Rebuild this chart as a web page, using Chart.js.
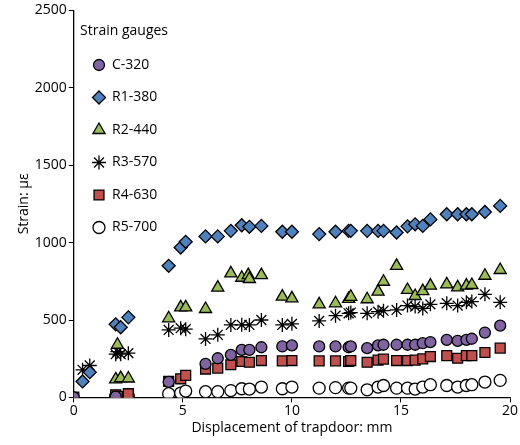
<!DOCTYPE html>
<html>
<head>
<meta charset="utf-8">
<script src="https://cdn.jsdelivr.net/npm/chart.js@4/dist/chart.umd.min.js"></script>
<style>
  body { margin: 0; background: #fff; }
  #wrap { width: 520px; height: 445px; }
</style>
</head>
<body>
<div id="wrap"><canvas id="chart"></canvas></div>
<script>
/* ================= DATA ================= */
const xC   = [0, 1.92, 4.35, 6.04, 6.6, 7.2, 7.7, 8.05, 8.6, 9.56, 10.0, 11.25, 12.0, 12.6, 12.7, 13.45, 13.95, 14.2, 14.8, 15.3, 15.65, 16.0, 16.35, 17.1, 17.6, 18.0, 18.25, 18.85, 19.55];
const c320 = [0, 5, 100, 217, 253, 275, 307, 307, 324, 329, 336, 329, 329, 324, 329, 318, 336, 340, 340, 340, 340, 350, 357, 372, 365, 372, 379, 419, 464];

const xR   = [0.4, 0.73, 1.92, 2.15, 2.5, 4.35, 4.9, 5.13, 6.04, 6.6, 7.2, 7.7, 8.05, 8.6, 9.56, 10.0, 11.25, 12.0, 12.6, 12.7, 13.45, 13.95, 14.2, 14.8, 15.3, 15.65, 16.0, 16.35, 17.1, 17.6, 18.0, 18.25, 18.85, 19.55];
const r380 = [103, 163, 472, 453, 517, 850, 968, 1005, 1040, 1040, 1076, 1112, 1102, 1108, 1070, 1070, 1055, 1070, 1076, 1076, 1076, 1076, 1076, 1065, 1105, 1118, 1108, 1150, 1183, 1183, 1183, 1183, 1198, 1237];

const xT   = [1.92, 2.0, 2.15, 2.5, 4.35, 4.9, 5.13, 6.04, 6.6, 7.2, 7.7, 8.0, 8.05, 8.6, 9.56, 10.0, 11.25, 12.0, 12.6, 12.7, 13.45, 13.95, 14.2, 14.8, 15.3, 15.65, 16.0, 16.35, 17.1, 17.6, 18.0, 18.25, 18.85, 19.55];
const r440 = [116, 340, 125, 122, 511, 582, 582, 571, 709, 801, 773, 790, 765, 790, 651, 640, 601, 608, 636, 650, 634, 683, 747, 850, 694, 655, 687, 722, 730, 711, 722, 726, 786, 823];

const xS   = [0.4, 0.73, 1.92, 2.0, 2.15, 2.5, 4.35, 4.9, 5.13, 6.04, 6.6, 7.2, 7.7, 8.05, 8.6, 9.56, 10.0, 11.25, 12.0, 12.6, 12.7, 13.45, 13.95, 14.2, 14.8, 15.3, 15.65, 16.0, 16.35, 17.1, 17.6, 18.0, 18.25, 18.85, 19.55];
const r570 = [178, 206, 279, 296, 279, 286, 436, 447, 441, 378, 404, 468, 469, 468, 500, 468, 475, 494, 528, 543, 548, 543, 554, 560, 565, 593, 587, 575, 601, 608, 593, 614, 619, 666, 614];

const xQ   = [0, 1.92, 2.0, 2.5, 4.35, 4.9, 5.13, 6.04, 6.6, 7.2, 7.7, 8.05, 8.6, 9.56, 10.0, 11.25, 12.0, 12.6, 12.7, 13.45, 13.95, 14.2, 14.8, 15.3, 15.65, 16.0, 16.35, 17.1, 17.6, 18.0, 18.25, 18.85, 19.55];
const r630 = [2, 17, 7, 24, 103, 120, 142, 183, 189, 211, 232, 227, 238, 236, 238, 236, 236, 232, 238, 227, 241, 247, 238, 238, 241, 249, 264, 270, 253, 270, 270, 290, 318];

const xO   = [1.92, 2.5, 4.35, 4.9, 5.13, 6.04, 6.6, 7.2, 7.7, 8.05, 8.6, 9.56, 10.0, 11.25, 12.0, 12.6, 12.7, 13.45, 13.95, 14.2, 14.8, 15.3, 15.65, 16.0, 16.35, 17.1, 17.6, 18.0, 18.25, 18.85, 19.55];
const r700 = [7, 10, 24, 28, 41, 37, 37, 44, 56, 54, 67, 56, 67, 60, 63, 60, 60, 49, 67, 77, 60, 60, 54, 67, 82, 77, 67, 77, 82, 99, 110];

/* ================= HELPERS ================= */
function pts(xs, ys) {
  return ys.map((y, i) => ({ x: xs[i], y: y }));
}

function series(label, xs, ys, style, fill, r) {
  return {
    label: label,
    data: pts(xs, ys),
    pointStyle: style,
    backgroundColor: fill,
    borderColor: "#000",
    borderWidth: 1.3,
    pointRadius: r,
    showLine: false
  };
}

const datasets = [
  series("C-320", xC, c320, "circle", "#8064a2", 5.5),
  series("R1-380", xR, r380, "rectRot", "#4f81bd", 6.5),
  series("R2-440", xT, r440, "triangle", "#9bbb59", 7),
  series("R3-570", xS, r570, "star", "#000", 7),
  series("R4-630", xQ, r630, "rect", "#c0504d", 7),
  series("R5-700", xO, r700, "circle", "#fff", 6)
];

/* ================= LEGEND (inside plot) ================= */
const legendPlugin = {
  id: "gaugeLegend",
  afterDraw(chart) {
    const ctx = chart.ctx;
    ctx.save();
    ctx.fillStyle = "#000";
    ctx.font = "14px 'Open Sans'";
    ctx.textBaseline = "middle";
    ctx.fillText("Strain gauges", 80, 31);
    chart.data.datasets.forEach((ds, i) => {
      const y = 65 + i * 32.5;
      ctx.fillStyle = ds.backgroundColor;
      ctx.strokeStyle = "#000";
      ctx.lineWidth = ds.borderWidth;
      Chart.helpers.drawPoint(ctx, { pointStyle: ds.pointStyle, radius: ds.pointRadius, borderWidth: ds.borderWidth }, 99, y);
      ctx.fillStyle = "#000";
      ctx.fillText(ds.label, 112, y);
    });
    ctx.restore();
  }
};

/* ================= CHART ================= */
const axisFont = { family: "'Open Sans'", size: 14 };

new Chart(document.getElementById("chart"), {
  type: "scatter",
  data: { datasets },
  options: {
    responsive: true,
    maintainAspectRatio: false,
    animation: false,
    layout: { padding: { right: 10, top: 2, left: 16, bottom: 9 } },
    plugins: { legend: { display: false }, tooltip: { enabled: false } },
    scales: {
      x: {
        min: 0, max: 20,
        ticks: { stepSize: 5, color: "#000", font: axisFont, padding: 0 },
        grid: { drawOnChartArea: false, color: "#000", tickLength: 5 },
        border: { color: "#000", width: 1.3 },
        title: { display: true, text: "Displacement of trapdoor: mm", color: "#000", font: axisFont, padding: 0 }
      },
      y: {
        min: 0, max: 2500,
        ticks: { stepSize: 500, color: "#000", font: axisFont, padding: 2, callback: v => String(v) },
        grid: { drawOnChartArea: false, color: "#000", tickLength: 5 },
        border: { color: "#000", width: 1.3 },
        title: { display: true, text: "Strain: με", color: "#000", font: axisFont, padding: 0 }
      }
    }
  },
  plugins: [legendPlugin]
});
</script>
</body>
</html>
